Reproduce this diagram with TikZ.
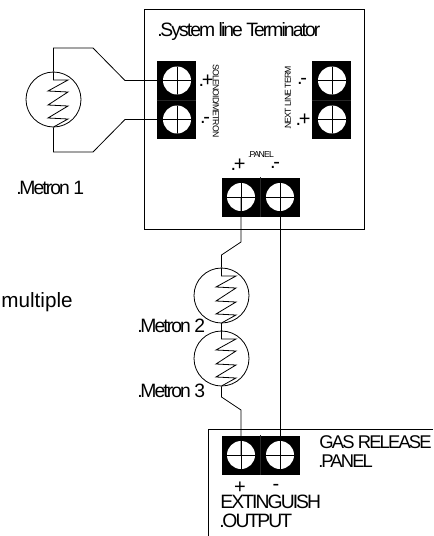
\documentclass[tikz,border=0pt]{standalone}
\usepackage{fontspec}
\setmainfont{Liberation Sans}[LetterSpace=-10]
\newfontfamily\plainfont{Liberation Sans}
\usetikzlibrary{positioning, calc}

\newcommand{\metronzig}[1]{
	\draw[shift={(#1)}] (0,-27.5) -- (0,-19.5) -- (14.5,-19.5) -- (-5.5,-8.5) -- (14.5,-7.5) -- (-5.5,5.5) -- (14.5,6.5) -- (-5.5,18.5) -- (14.5,19.5) -- (0,27.5);
}
\newcommand{\dotk}{.\kern-0.12em}

\begin{document}
\begin{tikzpicture}[x=0.75pt, y=-0.75pt, line width=0.6pt,
		metron/.style={draw, circle, minimum size=41.25pt, inner sep=0pt},
		vblock/.style={fill=black, rectangle, minimum width=29.25pt, minimum height=58.5pt, inner sep=0pt},
		hblock/.style={fill=black, rectangle, minimum width=58.5pt, minimum height=29.25pt, inner sep=0pt},
		screw/.style={fill=white, circle, minimum size=21pt, inner sep=0pt,
			path picture={\draw (path picture bounding box.north) -- (path picture bounding box.south);
				\draw (path picture bounding box.west) -- (path picture bounding box.east);}},
		lbl/.style={anchor=base west, inner sep=0pt, font=\fontsize{14.5}{14.5}\selectfont},
		tiny/.style={inner sep=0pt, font=\fontsize{6.5}{6.5}\selectfont},
		sign/.style={inner sep=0pt, font=\fontsize{15}{15}\selectfont}
		]
		\useasboundingbox (0,0) rectangle (433,536);
		% boxes
		\node[draw, rectangle, minimum width=165pt, minimum height=165pt, inner sep=0pt] (Term) at (254,119) {};
		\draw (433,429) -- (208,429) -- (208,536);
		% terminal blocks
		\node[vblock] (BL) at (176.5,100) {};
		\node[vblock] (BR) at (331.5,100) {};
		\node[hblock] (BP) at (260.5,197) {};
		\node[hblock] (BG) at (260.5,455) {};
		\draw[black!85] (BL.west) -- (BL.east);
		\draw[black!85] (BR.west) -- (BR.east);
		\draw[black!85] (BP.north) -- (BP.south);
		\draw[black!85] (BG.north) -- (BG.south);
		\node[screw] (SL1) at (177,80.5) {};
		\node[screw] (SL2) at (177,119.5) {};
		\node[screw] (SR1) at (332,80.5) {};
		\node[screw] (SR2) at (332,119.5) {};
		\node[screw] (SP1) at (241,197) {};
		\node[screw] (SP2) at (280,197) {};
		\node[screw] (SG1) at (241,455) {};
		\node[screw] (SG2) at (280,455) {};
		% metrons
		\node[metron] (M1) at (53.5,99.5) {};
		\node[metron] (M2) at (221.5,295.5) {};
		\node[metron] (M3) at (221.5,358.5) {};
		\metronzig{M1}
		\metronzig{M2}
		\metronzig{M3}
		% wires
		\draw (SL1.center) -- (125,80.5) -- (93,48) -- (53.5,48) -- (M1.north);
		\draw (SL2.center) -- (125,119.5) -- (93,152) -- (53.5,152) -- (M1.south);
		\draw (SP1.center) -- (241,242) -- (221.5,255) -- (M2.north);
		\draw (M2.south) -- (M3.north);
		\draw (M3.south) -- (221.5,397) -- (241,410) -- (SG1.center);
		\draw (SP2.center) -- (SG2.center);
		% labels
		\node[lbl] (TermText) at (157,36) {\dotk System line Terminator};
		\node[lbl] (M1Text) at (16,194) {\dotk Metron 1};
		\node[lbl] (M2Text) at (137,332) {\dotk Metron 2};
		\node[lbl] (M3Text) at (137,397) {\dotk Metron 3};
		\node[inner sep=0pt, anchor=base east, font=\plainfont\fontsize{15.5}{15.5}\selectfont] (Multi) at (73,307) {multiple};
		\node[lbl, font=\fontsize{13.8}{13.8}\selectfont] (Gas1) at (319,448) {GAS RELEASE};
		\node[lbl, font=\fontsize{13.8}{13.8}\selectfont] (Gas2) at (318,467) {\dotk PANEL};
		\node[lbl] (Ext1) at (220,508) {EXTINGUISH};
		\node[lbl] (Ext2) at (219,527) {\dotk OUTPUT};
		\node[tiny, rotate=-90] (Sol) at (216,101) {SOLENOID/METRON};
		\node[tiny, rotate=90] (Next) at (288,98) {\dotk NEXT LINE TERM};
		\node[tiny] (Pan) at (261,155) {\dotk PANEL};
		% signs
		\node[sign] (PL1) at (206,81) {\dotk +};
		\node[sign] (PL2) at (205,120) {\dotk -};
		\node[sign] (PR1) at (302,81) {\dotk -};
		\node[sign] (PR2) at (303,120) {\dotk +};
		\node[sign] (PP1) at (238,165) {\dotk +};
		\node[sign] (PP2) at (275,165) {\dotk -};
		\node[sign] (PG1) at (240,488) {+};
		\node[sign] (PG2) at (276,487) {-};
	\end{tikzpicture}
\end{document}
